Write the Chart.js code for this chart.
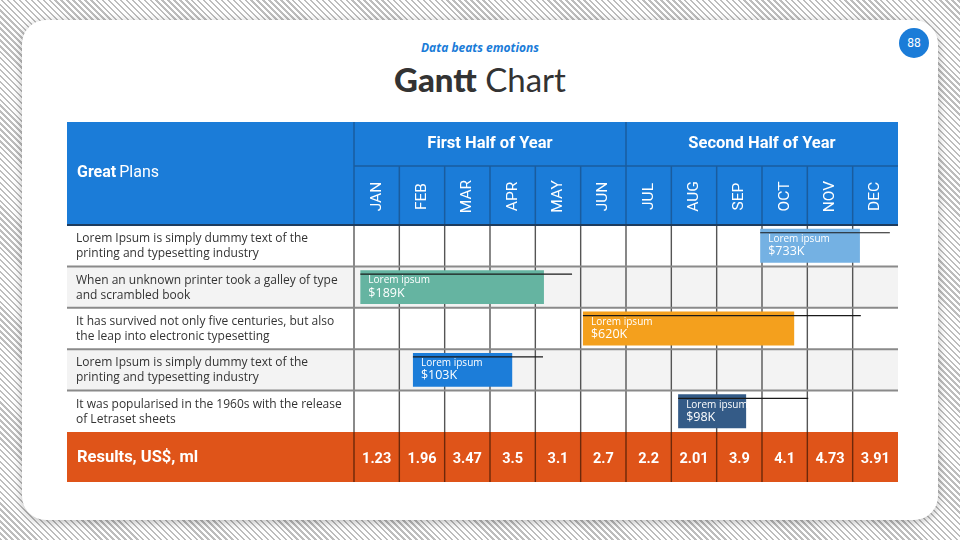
<!DOCTYPE html>
<html>
<head>
<meta charset="utf-8">
<script src="https://cdn.jsdelivr.net/npm/chart.js@4.4.1/dist/chart.umd.min.js"></script>
<style>
  html, body { margin:0; padding:0; }
  body {
    width:960px; height:540px; overflow:hidden; position:relative;
    background: repeating-linear-gradient(45deg, #bdbdbd 0 1.7px, #ffffff 1.7px 4.2px);
  }
  #card {
    position:absolute; left:22px; top:20px; width:916px; height:500px;
    background:#fff; border-radius:24px; box-shadow:0 2px 8px rgba(0,0,0,0.28);
  }
  #sub {
    position:absolute; left:0; width:960px; top:40px; text-align:center;
    font-family:"Open Sans", sans-serif; font-style:italic; font-weight:700;
    font-size:12px; line-height:16px; color:#1B7CD8;
  }
  #title {
    position:absolute; left:0; width:960px; top:58px; text-align:center;
    font-family:Lato, sans-serif; font-size:33px; color:#333; line-height:42px;
  }
  #title b { font-weight:900; }
  #page {
    position:absolute; left:899px; top:28px; width:30px; height:30px; border-radius:50%;
    background:#1B7CD8; color:#fff; font-family:Roboto, sans-serif; font-size:12px;
    text-align:center; line-height:30px;
  }
  canvas { position:absolute; left:0; top:0; }
</style>
</head>
<body>
<div id="card"></div>
<div id="sub">Data beats emotions</div>
<div id="title"><b>Gantt</b> Chart</div>
<div id="page">88</div>
<canvas id="c" width="960" height="540"></canvas>
<script>
// ---- data ----
const months = ['JAN','FEB','MAR','APR','MAY','JUN','JUL','AUG','SEP','OCT','NOV','DEC'];
const halves = ['First Half of Year','Second Half of Year'];
const rowLabels = [
  ['Lorem Ipsum is simply dummy text of the','printing and typesetting industry'],
  ['When an unknown printer took a galley of type','and scrambled book'],
  ['It has survived not only five centuries, but also','the leap into electronic typesetting'],
  ['Lorem Ipsum is simply dummy text of the','printing and typesetting industry'],
  ['It was popularised in the 1960s with the release','of Letraset sheets']
];
const barStart = [8.96, 0.14, 5.05, 1.30, 7.15];
const barEnd   = [11.16, 4.19, 9.71, 3.49, 8.65];
const lineEnd  = [11.82, 4.81, 11.18, 4.17, 10.02];
const barTitles = ['Lorem ipsum','Lorem ipsum','Lorem ipsum','Lorem ipsum','Lorem ipsum'];
const barValues = ['$733K','$189K','$620K','$103K','$98K'];
const barColors = ['#74B1E3','#65B4A1','#F4A01D','#1C7DD9','#345B87'];
const results = ['1.23','1.96','3.47','3.5','3.1','2.7','2.2','2.01','3.9','4.1','4.73','3.91'];
const headerTitle = ['Great', 'Plans'];
const resultsTitle = 'Results, US$, ml';

const TABLE_LEFT = 67, HEADER_H = 103, HALF_H = 44, RESULT_H = 50;

const tablePlugin = {
  id:'table',
  beforeDatasetsDraw(chart){
    const ctx = chart.ctx, a = chart.chartArea;
    const xs = chart.scales.x, ys = chart.scales.y;
    const n = rowLabels.length, rh = (a.bottom - a.top)/n;
    ctx.save();
    // row backgrounds
    for (let i=0;i<n;i++){
      const cy = ys.getPixelForValue(i);
      ctx.fillStyle = (i%2===1) ? '#F3F3F3' : '#FFFFFF';
      ctx.fillRect(TABLE_LEFT, cy-rh/2, a.right-TABLE_LEFT, rh);
    }
    // vertical lines in body
    ctx.strokeStyle = '#555'; ctx.lineWidth = 1.4;
    for (let k=1;k<12;k++){
      const x = xs.getPixelForValue(k);
      ctx.beginPath(); ctx.moveTo(x,a.top); ctx.lineTo(x,a.bottom); ctx.stroke();
    }
    ctx.strokeStyle = '#8a8a8a'; ctx.lineWidth = 2;
    ctx.beginPath(); ctx.moveTo(a.left,a.top); ctx.lineTo(a.left,a.bottom); ctx.stroke();
    // horizontal row lines
    for (let i=1;i<n;i++){
      const y = ys.getPixelForValue(i) - rh/2;
      ctx.beginPath(); ctx.moveTo(TABLE_LEFT,y); ctx.lineTo(a.right,y); ctx.stroke();
    }
    // row labels
    ctx.fillStyle = '#333'; ctx.font = '12px "Open Sans"'; ctx.textBaseline='middle'; ctx.textAlign='left';
    for (let i=0;i<n;i++){
      const cy = ys.getPixelForValue(i);
      ctx.fillText(rowLabels[i][0], 76, cy-7);
      ctx.fillText(rowLabels[i][1], 76, cy+8);
    }
    // header
    const ht = a.top - HEADER_H;
    ctx.fillStyle = '#1B7CD8';
    ctx.fillRect(TABLE_LEFT, ht, a.right-TABLE_LEFT, HEADER_H);
    ctx.strokeStyle = '#1A5C9E'; ctx.lineWidth = 1.5;
    const mid = xs.getPixelForValue(6);
    ctx.beginPath();
    ctx.moveTo(a.left, ht); ctx.lineTo(a.left, a.top);
    ctx.moveTo(mid, ht); ctx.lineTo(mid, a.top);
    ctx.moveTo(a.left, ht+HALF_H); ctx.lineTo(a.right, ht+HALF_H);
    for (let k=1;k<12;k++){
      const x = xs.getPixelForValue(k);
      ctx.moveTo(x, ht+HALF_H); ctx.lineTo(x, a.top);
    }
    ctx.stroke();
    ctx.strokeStyle = '#1E3C5E'; ctx.lineWidth = 2;
    ctx.beginPath(); ctx.moveTo(TABLE_LEFT, a.top); ctx.lineTo(a.right, a.top); ctx.stroke();
    ctx.fillStyle = '#fff'; ctx.textAlign='center'; ctx.textBaseline='middle';
    ctx.font = 'bold 16.5px Roboto';
    ctx.fillText(halves[0], (a.left+mid)/2, ht+HALF_H/2);
    ctx.fillText(halves[1], (mid+a.right)/2, ht+HALF_H/2);
    ctx.font = '15.5px Roboto';
    for (let k=0;k<12;k++){
      const cx = xs.getPixelForValue(k+0.5);
      ctx.save();
      ctx.translate(cx, ht+HALF_H+(HEADER_H-HALF_H)/2 + 1);
      ctx.rotate(-Math.PI/2);
      ctx.fillText(months[k], 0, 0);
      ctx.restore();
    }
    ctx.textAlign='left';
    ctx.font = 'bold 16px Roboto';
    ctx.fillText(headerTitle[0], 77, ht+51);
    const w = ctx.measureText(headerTitle[0]+' ').width;
    ctx.font = '16px Roboto';
    ctx.fillText(headerTitle[1], 77+w-1, ht+51);
    // results row
    const rt = a.bottom;
    ctx.fillStyle = '#DF5419';
    ctx.fillRect(TABLE_LEFT, rt, a.right-TABLE_LEFT, RESULT_H);
    ctx.strokeStyle = 'rgba(70,25,5,0.75)'; ctx.lineWidth = 1.4;
    ctx.beginPath();
    for (let k=0;k<12;k++){
      const x = xs.getPixelForValue(k);
      ctx.moveTo(x, rt); ctx.lineTo(x, rt+RESULT_H);
    }
    ctx.stroke();
    ctx.fillStyle = '#fff';
    ctx.font = 'bold 16.5px Roboto';
    ctx.fillText(resultsTitle, 77, rt+RESULT_H/2+1);
    ctx.textAlign='center';
    ctx.font = 'bold 14.5px Roboto';
    for (let k=0;k<12;k++){
      ctx.fillText(results[k], xs.getPixelForValue(k+0.5), rt+RESULT_H/2+2);
    }
    ctx.restore();
  },
  afterDatasetsDraw(chart){
    const ctx = chart.ctx;
    const xs = chart.scales.x;
    const meta = chart.getDatasetMeta(0);
    ctx.save();
    meta.data.forEach((bar, i) => {
      const top = bar.y - bar.height/2;
      const x0 = xs.getPixelForValue(barStart[i]);
      const x1 = xs.getPixelForValue(lineEnd[i]);
      ctx.strokeStyle = '#1a1a1a'; ctx.lineWidth = 1.2;
      ctx.beginPath(); ctx.moveTo(x0, top+4); ctx.lineTo(x1, top+4); ctx.stroke();
      ctx.fillStyle = '#fff'; ctx.textAlign='left'; ctx.textBaseline='middle';
      ctx.font = '10px "Open Sans"';
      ctx.fillText(barTitles[i], x0+8, top+10.5);
      ctx.font = '12.5px "Open Sans"';
      ctx.fillText(barValues[i], x0+8, top+23);
    });
    ctx.restore();
  }
};

new Chart(document.getElementById('c'), {
  type:'bar',
  data:{
    labels: rowLabels,
    datasets:[{
      data: barStart.map((s,i)=>[s, barEnd[i]]),
      backgroundColor: barColors,
      borderWidth:0,
      borderSkipped:false,
      barPercentage:0.82,
      categoryPercentage:1
    }]
  },
  options:{
    indexAxis:'y',
    responsive:false,
    animation:false,
    layout:{ padding:{ left:354, right:62, top:225, bottom:108 } },
    scales:{
      x:{ type:'linear', min:0, max:12, display:false },
      y:{ display:false }
    },
    plugins:{ legend:{display:false}, tooltip:{enabled:false} }
  },
  plugins:[tablePlugin]
});
</script>
</body>
</html>
